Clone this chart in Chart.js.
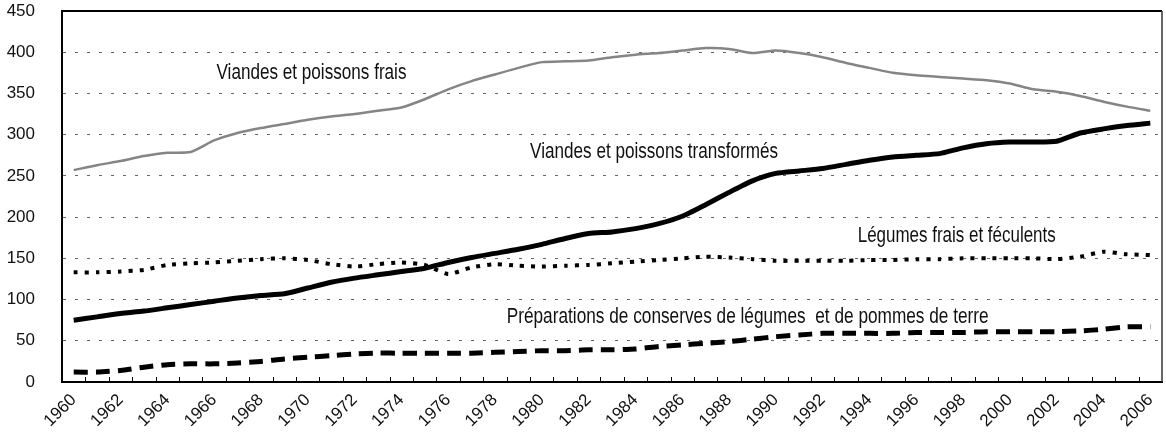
<!DOCTYPE html>
<html lang="fr">
<head>
<meta charset="utf-8">
<title>Consommation 1960-2006</title>
<script src="https://cdn.jsdelivr.net/npm/chart.js@4.4.1/dist/chart.umd.min.js"></script>
<style>
    html, body { margin: 0; padding: 0; background: #fff; }
    #wrap { width: 1166px; height: 432px; position: relative; }
</style>
</head>
<body>
<div id="wrap"><canvas id="chart"></canvas></div>
<script>
// Categories
const years = ['1960', '1961', '1962', '1963', '1964', '1965', '1966', '1967', '1968', '1969',
    '1970', '1971', '1972', '1973', '1974', '1975', '1976', '1977', '1978', '1979',
    '1980', '1981', '1982', '1983', '1984', '1985', '1986', '1987', '1988', '1989',
    '1990', '1991', '1992', '1993', '1994', '1995', '1996', '1997', '1998', '1999',
    '2000', '2001', '2002', '2003', '2004', '2005', '2006'];

// Tick labels shown on the x axis
const shownYears = ['1960', '1962', '1964', '1966', '1968', '1970', '1972', '1974', '1976', '1978',
    '1980', '1982', '1984', '1986', '1988', '1990', '1992', '1994', '1996', '1998',
    '2000', '2002', '2004', '2006'];

// Series
const viandesFrais = [257, 263, 268, 274, 278, 279, 293, 302, 308, 313,
    318, 322, 325, 329, 333, 343, 355, 365, 373, 381,
    388, 389, 390, 394, 397, 399, 402, 405, 404, 399,
    402, 399, 394, 387, 381, 375, 372, 370, 368, 366,
    362, 355, 352, 347, 340, 334, 329];
const viandesTransformees = [75, 79, 83, 86, 90, 94, 98, 102, 105, 107,
    114, 121, 126, 130, 134, 138, 145, 151, 156, 161,
    167, 174, 180, 182, 186, 192, 201, 215, 230, 244,
    253, 256, 259, 264, 269, 273, 275, 277, 284, 289,
    291, 291, 292, 302, 307, 311, 314];
const legumesFrais = [133, 133, 134, 136, 142, 144, 145, 147, 149, 150,
    148, 143, 140, 143, 145, 142, 131, 139, 143, 141,
    140, 141, 142, 144, 146, 148, 150, 152, 151, 149,
    147, 147, 147, 147, 148, 148, 149, 149, 150, 150,
    150, 150, 149, 152, 158, 155, 154];
const conserves = [12, 12, 14, 18, 21, 22, 22, 23, 25, 28,
    30, 32, 34, 35, 35, 35, 35, 35, 36, 37,
    38, 38, 39, 39, 40, 43, 45, 47, 49, 52,
    55, 57, 59, 59, 59, 59, 60, 60, 60, 61,
    61, 61, 61, 62, 64, 67, 67];

// Y axis
const yTicks = [0, 50, 100, 150, 200, 250, 300, 350, 400, 450];

// Series names written inside the plot
const seriesNames = [
    'Viandes et poissons frais',
    'Viandes et poissons transformés',
    'Légumes frais et féculents',
    'Préparations de conserves de légumes  et de pommes de terre'
];

const tickFont = { family: '"Liberation Sans", Arial, sans-serif', size: 17 };

// no automatic padding, the box sizes are fixed
function noPadding(scale) {
    scale.paddingTop = 0;
    scale.paddingBottom = 0;
    scale.paddingLeft = 0;
    scale.paddingRight = 0;
}

// Frame (top + right) and inner tick marks between years
const framePlugin = {
    id: 'frame',
    afterDatasetsDraw(chart) {
        const { ctx, chartArea } = chart;
        const x = chart.scales.x;
        ctx.save();
        ctx.strokeStyle = '#000';
        ctx.lineWidth = 2;
        ctx.beginPath();
        ctx.moveTo(chartArea.left, chartArea.top);
        ctx.lineTo(chartArea.right, chartArea.top);
        ctx.stroke();
        ctx.lineWidth = 1.5;
        ctx.strokeStyle = '#333';
        ctx.beginPath();
        ctx.moveTo(chartArea.right, chartArea.top);
        ctx.lineTo(chartArea.right, chartArea.bottom);
        ctx.stroke();

        // small ticks at the boundaries between years
        ctx.strokeStyle = '#000';
        ctx.lineWidth = 1;
        for (let i = 1; i < years.length; i++) {
            const px = Math.round((x.getPixelForValue(i - 1) + x.getPixelForValue(i)) / 2) + 0.5;
            ctx.beginPath();
            ctx.moveTo(px, chartArea.bottom);
            ctx.lineTo(px, chartArea.bottom - 5);
            ctx.stroke();
        }
        ctx.restore();
    }
};

// Series names, placed in data units
const namesPlugin = {
    id: 'names',
    afterDatasetsDraw(chart) {
        const { ctx } = chart;
        const xs = chart.scales.x, ys = chart.scales.y;
        const spots = [
            { i: 6.1, v: 375, w: 190 },
            { i: 19.5, v: 279, w: 248 },
            { i: 33.5, v: 177, w: 198 },
            { i: 18.5, v: 79, w: 482 }
        ];
        ctx.save();
        ctx.fillStyle = '#111';
        ctx.font = '22px "Liberation Sans Narrow", "Liberation Sans", Arial, sans-serif';
        ctx.textBaseline = 'middle';
        ctx.textAlign = 'left';
        seriesNames.forEach((name, k) => {
            const s = spots[k];
            const px = xs.getPixelForValue(s.i);
            const py = ys.getPixelForValue(s.v);
            const natural = ctx.measureText(name).width;
            ctx.save();
            ctx.translate(px, py);
            ctx.scale(s.w / natural, 1);
            ctx.fillText(name, 0, 0);
            ctx.restore();
        });
        ctx.restore();
    }
};

new Chart(document.getElementById('chart'), {
    type: 'line',
    data: {
        labels: years,
        datasets: [
            {
                label: seriesNames[0],
                data: viandesFrais,
                borderColor: '#858585',
                borderWidth: 2.5,
                pointRadius: 0,
                tension: 0.2
            },
            {
                label: seriesNames[1],
                data: viandesTransformees,
                borderColor: '#000',
                borderWidth: 5,
                pointRadius: 0,
                tension: 0.2
            },
            {
                label: seriesNames[2],
                data: legumesFrais,
                borderColor: '#000',
                borderWidth: 4,
                borderDash: [4, 7],
                pointRadius: 0,
                tension: 0.2
            },
            {
                label: seriesNames[3],
                data: conserves,
                borderColor: '#000',
                borderWidth: 5,
                borderDash: [14, 8],
                pointRadius: 0,
                tension: 0.2
            }
        ]
    },
    options: {
        responsive: true,
        maintainAspectRatio: false,
        animation: false,
        layout: { padding: { top: 11, right: 4, left: 0, bottom: 0 } },
        plugins: {
            legend: { display: false },
            tooltip: { enabled: false }
        },
        scales: {
            x: {
                offset: true,
                grid: { display: false },
                border: { color: '#000', width: 2 },
                afterFit: (scale) => { scale.height = 50; noPadding(scale); },
                ticks: {
                    autoSkip: false,
                    minRotation: 45,
                    maxRotation: 45,
                    padding: 0,
                    color: '#111',
                    font: tickFont,
                    callback: function (value) {
                        const lab = this.getLabelForValue(value);
                        return shownYears.includes(lab) ? lab : '';
                    }
                }
            },
            y: {
                min: yTicks[0],
                max: yTicks[yTicks.length - 1],
                afterBuildTicks: (scale) => {
                    scale.ticks = yTicks.map(v => ({ value: v }));
                },
                afterFit: (scale) => { scale.width = 62; noPadding(scale); },
                border: { color: '#000', width: 2, dash: [3, 9] },
                grid: {
                    drawTicks: false,
                    color: (c) => (c.tick.value === 0 || c.tick.value === 450) ? 'rgba(0,0,0,0)' : '#666',
                    lineWidth: 1
                },
                ticks: {
                    padding: 27,
                    color: '#111',
                    font: tickFont
                }
            }
        }
    },
    plugins: [framePlugin, namesPlugin]
});
</script>
</body>
</html>
